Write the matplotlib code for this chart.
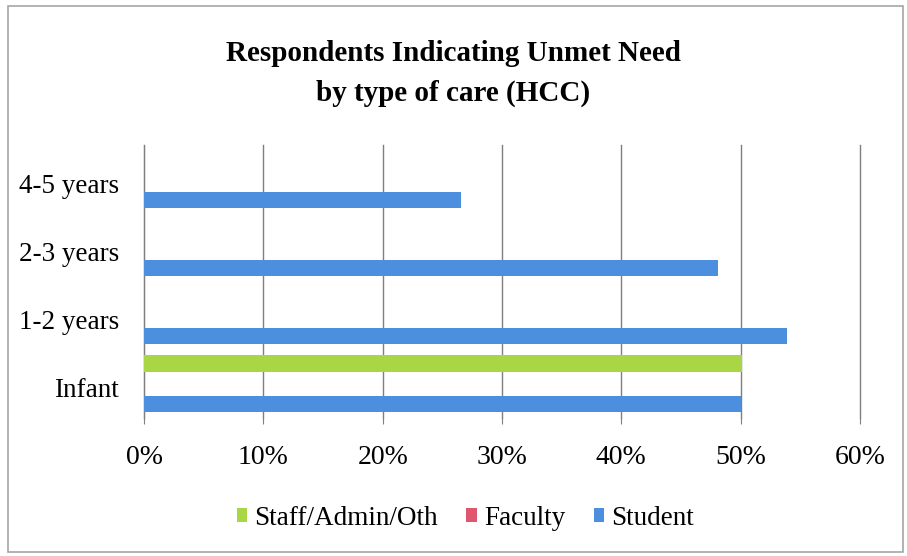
import matplotlib
matplotlib.use("Agg")
import matplotlib.pyplot as plt
from matplotlib.patches import Rectangle
from matplotlib.ticker import PercentFormatter
from matplotlib.transforms import ScaledTranslation

categories = ["Infant", "1-2 years", "2-3 years", "4-5 years"]
student = [50.0, 53.9, 48.1, 26.6]
faculty = [0, 0, 0, 0]
staff = [50.1, 0, 0, 0]
x_ticks = [0, 10, 20, 30, 40, 50, 60]

plt.rcParams["font.family"] = ["Liberation Serif", "DejaVu Serif"]

fig = plt.figure(figsize=(9.07, 5.56), dpi=100)
ax = fig.add_axes([0.1588, 0.248, 0.7894, 0.491])

# outer chart frame
fig.patches.append(Rectangle((0.009, 0.008), 0.987, 0.982, transform=fig.transFigure,
                             fill=False, edgecolor="#a6a6a6", linewidth=1.2))

ypos = list(range(len(categories)))
slot = 0.3
h = 0.235
series = [
    ("Student", student, "#4b8fde", -slot),
    ("Faculty", faculty, "#e0566e", 0.0),
    ("Staff/Admin/Oth", staff, "#a9d645", slot),
]
handles = {}
for name, vals, col, off in series:
    b = ax.barh([y + off for y in ypos], vals, height=h, color=col, zorder=3, label=name)
    handles[name] = b

ax.set_xlim(0, 60)
ax.set_ylim(-0.5, 3.5)
ax.set_xticks(x_ticks)
ax.xaxis.set_major_formatter(PercentFormatter(decimals=0))
ax.set_yticks(ypos)
ax.set_yticklabels(categories)
ax.tick_params(axis="y", length=0, labelsize=19.5, pad=18)
ax.tick_params(axis="x", length=4, color="#808080", labelsize=20, pad=15)
# category labels sit a little below the group centre in the original
shift = ScaledTranslation(0, -0.04, fig.dpi_scale_trans)
for lbl in ax.get_yticklabels():
    lbl.set_transform(lbl.get_transform() + shift)
ax.grid(axis="x", color="#7f7f7f", linewidth=1, zorder=0)
for gl in ax.get_xgridlines():
    gl.set_clip_on(False)
for s in ["top", "right", "bottom"]:
    ax.spines[s].set_visible(False)
ax.spines["left"].set_color("#7f7f7f")

fig.text(0.5, 0.904, "Respondents Indicating Unmet Need", ha="center", va="center",
         fontsize=21, fontweight="bold")
fig.text(0.5, 0.832, "by type of care (HCC)", ha="center", va="center",
         fontsize=21, fontweight="bold")

order = ["Staff/Admin/Oth", "Faculty", "Student"]
leg = fig.legend([handles[n] for n in order], order, loc="center", bbox_to_anchor=(0.513, 0.068),
                 ncol=3, frameon=False, fontsize=19.5, handlelength=0.4, handleheight=0.4,
                 handletextpad=0.25, columnspacing=1.05)

fig.savefig("out.png", dpi=100, facecolor="white")
